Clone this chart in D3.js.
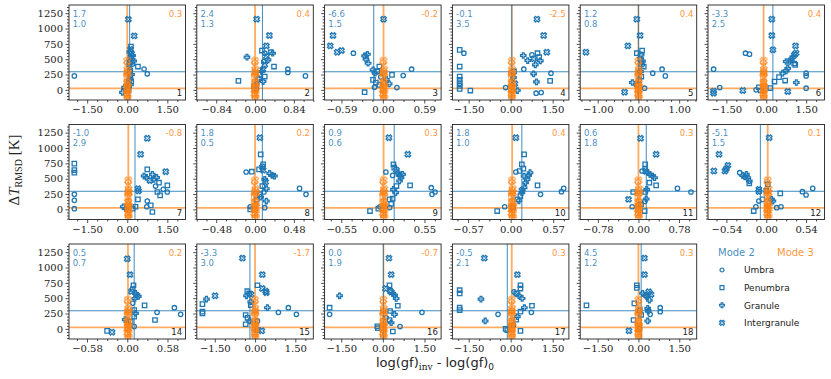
<!DOCTYPE html>
<html><head><meta charset="utf-8">
<script src="https://cdn.jsdelivr.net/npm/d3@7"></script>
<style>body{margin:0;background:#fff} svg{display:block}</style>
</head><body><svg id="c" width="831" height="379"></svg>
<script>
// ---------------- DATA ----------------
const panelIds   = [1,2,3,4,5,6,7,8,9,10,11,12,14,15,16,17,18];
const xTickVal   = [1.5,0.84,0.59,1.5,1.0,1.5, 1.5,0.48,0.55,0.57,0.78,0.54, 0.58,1.5,1.5,1.5,1.5];
const xLimit     = [2.18,1.26,0.83,2.08,1.43,2.19, 2.18,0.72,0.77,0.78,1.12,0.79, 0.84,2.17,2.1,2.08,2.14];
const yTicks     = [0,250,500,750,1000,1250];
const yDomain    = [-165,1383];
const mode2Level = 295;   // horizontal blue line
const mode3Level = 25;    // horizontal orange line
const mode2VLine = [0.09,0.16,-0.13,0.04,0.0,0.25, 0.29,0.09,0.15,0.15,0.15,-0.08, 0.1,-0.19,0.02,-0.12,0.1];
const mode3VLine = [0.0,0.0,0.01,0.04,0.0,-0.1, 0.04,0.0,0.01,0.02,0.0,0.02, 0.01,0.0,0.02,0.04,0.0];
const mode2TextA = ["1.7","2.4","-6.6","-0.1","1.2","-3.3","-1.0","1.8","0.9","1.8","0.6","-5.1","0.5","-3.3","0.0","-0.5","4.5"];
const mode2TextB = ["1.0","1.3","1.5","3.5","0.8","2.5","2.9","0.5","0.6","1.0","1.8","1.5","0.7","3.0","1.9","2.1","1.2"];
const mode3Text  = ["0.3","0.4","-0.2","-2.5","0.4","0.4","-0.8","0.2","0.3","0.4","0.3","0.1","0.2","-1.7","-0.7","0.3","0.3"];
const legendLabels = ["Umbra","Penumbra","Granule","Intergranule"];
const legendTypes  = ["u","p","g","i"];

// Mode 3 points: x offset from the panel's mode-3 column, value, region type
const m3Pts = [[0,470,'i'],[-0.01,445,'u'],[0.01,330,'i'],[0,310,'p'],[-0.01,290,'u'],[0.01,270,'i'],[0,245,'g'],[-0.01,210,'p'],
  [0.01,140,'u'],[0,115,'i'],[-0.01,95,'p'],[0.01,75,'g'],[0,55,'u'],[0.01,35,'i'],[-0.01,15,'p'],[0,-10,'u'],
  [0.01,-35,'g'],[-0.01,-60,'i'],[0,-85,'p'],[0.01,-110,'g'],[0,-140,'u']];

// Mode 2 points per panel: [dlog gf, dT, type]
const m2_1 = [[-1.98,228,'u'],[0.04,1150,'i'],[0.26,880,'i'],[0.14,705,'p'],[0.12,660,'i'],[0.1,615,'g'],[0.16,590,'i'],[0.2,560,'g'],[0.12,530,'p'],[0.18,500,'g'],[0.24,470,'g'],[0.1,450,'i'],[0.08,420,'p'],[0.4,380,'p'],[0.63,340,'u'],[0.75,262,'u'],[0.12,330,'u'],[0.1,300,'p'],[0.16,250,'g'],[0.12,205,'p'],[0.08,160,'g'],[0.05,120,'u'],[0.12,85,'g'],[0.02,60,'p'],[-0.1,40,'g'],[-0.18,-40,'g'],[0.05,0,'p'],[0.2,420,'u'],[0.15,140,'p']];
const m2_2 = [[0.035,1152,'i'],[0.31,886,'i'],[0.245,717,'i'],[-0.175,533,'g'],[0.15,641,'p'],[0.21,598,'u'],[0.34,614,'p'],[0.38,598,'g'],[0.245,543,'i'],[0.28,489,'g'],[0.19,462,'u'],[0.21,408,'i'],[0.41,380,'p'],[0.71,337,'u'],[0.71,283,'u'],[1.09,228,'u'],[-0.36,147,'p'],[0.21,217,'p'],[0.14,300,'g'],[0.17,330,'i'],[0.175,136,'g'],[0.04,100,'u'],[-0.02,60,'p'],[0.1,250,'p'],[0.08,180,'g'],[0.03,20,'u']];
const m2_3 = [[-0.71,886,'i'],[-0.75,717,'i'],[-0.65,614,'i'],[-0.59,641,'i'],[-0.42,598,'u'],[-0.26,554,'g'],[-0.24,500,'g'],[-0.21,435,'g'],[-0.22,580,'g'],[-0.05,380,'p'],[-0.14,326,'g'],[-0.11,272,'g'],[-0.26,-38,'p'],[-0.14,163,'p'],[-0.12,43,'u'],[-0.05,82,'p'],[0.01,1152,'i'],[0.13,245,'p'],[0.29,234,'u'],[0.41,337,'u'],[0.2,38,'u'],[0.09,98,'g'],[-0.08,300,'p'],[0.05,170,'g'],[-0.1,120,'p'],[-0.03,210,'u']];
const m2_4 = [[-1.82,652,'p'],[-1.67,598,'u'],[-1.82,380,'p'],[-1.82,217,'p'],[-1.82,163,'p'],[-1.82,109,'p'],[-1.82,65,'p'],[-1.82,16,'p'],[-1.44,-11,'p'],[-0.18,38,'u'],[0.94,1152,'i'],[1.18,886,'i'],[1.29,614,'i'],[0.45,560,'g'],[0.61,478,'g'],[0.76,570,'u'],[0.82,505,'i'],[0.96,598,'p'],[1.02,533,'p'],[1.06,473,'g'],[0.88,408,'g'],[0.47,337,'u'],[0.82,261,'g'],[0.92,130,'g'],[1.44,272,'u'],[1.41,147,'p'],[0.91,-54,'u'],[1.09,-43,'u'],[0.24,-11,'g'],[0.12,300,'p'],[0.1,200,'g'],[0.15,100,'i']];
const m2_5 = [[-1.29,614,'i'],[-0.26,717,'i'],[-0.04,1152,'i'],[0.04,886,'i'],[-0.04,598,'p'],[0.09,641,'p'],[0.065,570,'g'],[0.05,500,'i'],[0.1,470,'g'],[0.13,380,'p'],[0.35,272,'u'],[0.58,337,'u'],[0.66,228,'u'],[-0.15,120,'g'],[0.15,27,'u'],[-0.34,-38,'i'],[0.07,217,'p'],[0.05,300,'g'],[0.02,160,'p'],[-0.05,80,'u'],[0.08,420,'i']];
const m2_6 = [[-1.98,337,'u'],[-1.75,38,'u'],[-1.98,-54,'i'],[-1.98,-20,'i'],[-0.78,598,'u'],[-0.63,582,'u'],[-0.88,-11,'i'],[-0.38,0,'u'],[-0.28,43,'p'],[-0.21,-10,'p'],[0.21,1152,'i'],[0.21,886,'i'],[0.25,652,'i'],[0.31,136,'p'],[0.48,207,'p'],[0.62,272,'g'],[0.75,310,'g'],[0.81,353,'g'],[0.88,462,'g'],[0.94,500,'g'],[1.0,533,'g'],[1.06,570,'i'],[1.12,600,'i'],[1.1,717,'i'],[1.09,408,'p'],[0.71,152,'p'],[0.75,462,'g'],[1.13,120,'g'],[1.5,272,'u'],[1.5,228,'u'],[1.5,27,'u'],[0.81,-27,'i'],[0.15,30,'p'],[1.05,430,'p']];
const m2_7 = [[-1.98,745,'p'],[-1.98,641,'p'],[-1.98,598,'p'],[-1.98,245,'u'],[-1.98,147,'u'],[-1.98,11,'u'],[0.5,897,'i'],[0.75,1158,'i'],[0.75,652,'p'],[0.63,543,'g'],[0.72,520,'g'],[0.94,570,'g'],[1.0,489,'g'],[1.19,435,'p'],[1.06,380,'u'],[1.44,614,'i'],[1.5,391,'p'],[1.13,283,'p'],[1.23,228,'p'],[1.35,326,'u'],[1.5,283,'u'],[0.4,337,'i'],[0.42,300,'i'],[0.4,163,'p'],[0.75,136,'u'],[0.73,43,'u'],[0.88,65,'p'],[0.94,-43,'p'],[-0.15,43,'g'],[-0.06,10,'g'],[0.31,43,'p'],[0.2,10,'p'],[1.1,520,'g'],[0.85,470,'i']];
const m2_8 = [[0.06,1168,'i'],[0.07,897,'p'],[0.1,734,'p'],[0.09,690,'i'],[0.05,652,'p'],[0.1,641,'i'],[-0.11,609,'u'],[-0.04,614,'p'],[0.18,587,'g'],[0.21,554,'g'],[0.24,543,'g'],[0.12,489,'g'],[0.13,446,'i'],[0.09,380,'p'],[0.14,337,'g'],[0.11,283,'u'],[0.06,245,'p'],[0.55,342,'u'],[0.63,245,'u'],[0.14,136,'g'],[0.12,27,'u'],[-0.06,43,'u'],[-0.06,0,'p'],[0.02,160,'p'],[0.07,200,'g']];
const m2_9 = [[-0.17,-27,'p'],[0.08,1168,'i'],[0.33,897,'i'],[0.14,734,'p'],[0.15,680,'p'],[0.18,641,'i'],[0.04,609,'u'],[0.2,598,'g'],[0.22,554,'g'],[0.24,516,'g'],[0.26,570,'g'],[0.22,462,'g'],[0.13,554,'u'],[0.36,391,'p'],[0.18,380,'p'],[0.14,326,'g'],[0.17,272,'g'],[0.13,174,'p'],[0.64,353,'u'],[0.69,283,'u'],[0.65,245,'u'],[0.09,163,'p'],[-0.04,43,'u'],[0.09,30,'u'],[0.11,90,'p'],[-0.06,10,'p']];
const m2_10 = [[0.07,1168,'i'],[0.18,897,'p'],[0.15,734,'p'],[0.17,663,'p'],[0.07,609,'u'],[0.12,625,'p'],[0.18,543,'g'],[0.22,489,'g'],[0.24,554,'g'],[0.26,598,'g'],[0.2,435,'g'],[0.36,391,'p'],[0.18,353,'g'],[0.15,272,'g'],[0.13,217,'p'],[0.4,245,'u'],[0.68,288,'u'],[0.71,342,'u'],[-0.18,-27,'p'],[-0.08,43,'u'],[0.09,163,'p'],[0.11,140,'g'],[0.15,310,'i'],[0.03,30,'p']];
const m2_11 = [[0.04,1158,'i'],[0.34,897,'i'],[0.13,734,'p'],[0.13,663,'p'],[0.14,620,'i'],[0.07,625,'u'],[0.18,598,'g'],[0.22,570,'g'],[0.27,543,'g'],[0.31,516,'g'],[0.21,435,'p'],[0.34,391,'p'],[0.16,326,'g'],[0.13,283,'p'],[0.75,342,'u'],[1.01,283,'u'],[-0.1,283,'p'],[-0.19,163,'i'],[0.15,170,'g'],[0.12,130,'u'],[-0.12,43,'u'],[0.12,-27,'p'],[0.05,80,'p']];
const m2_12 = [[0.04,1168,'i'],[-0.64,897,'i'],[-0.71,625,'i'],[-0.56,625,'i'],[-0.54,663,'i'],[-0.52,717,'i'],[-0.36,598,'u'],[-0.32,554,'g'],[-0.27,570,'g'],[-0.25,516,'g'],[-0.23,462,'g'],[-0.23,424,'p'],[-0.29,530,'g'],[-0.1,326,'i'],[-0.1,290,'i'],[0.02,408,'p'],[0.19,261,'p'],[0.49,288,'u'],[0.54,234,'u'],[0.63,342,'u'],[-0.05,163,'p'],[-0.1,136,'u'],[0.09,136,'g'],[0.07,165,'g'],[-0.14,43,'u'],[-0.17,-27,'p'],[0.14,27,'u'],[0.2,43,'u'],[0.0,300,'p']];
const m2_14 = [[0,1142,'i'],[0.04,884,'i'],[0.09,711,'p'],[0.08,650,'p'],[0.06,610,'i'],[0.12,577,'g'],[0.14,550,'g'],[0.16,530,'g'],[0.11,496,'g'],[0.25,383,'p'],[0.1,307,'p'],[0.12,253,'g'],[0.1,199,'p'],[0.43,269,'u'],[0.68,345,'u'],[0.77,237,'u'],[0.4,145,'p'],[-0.29,-32,'p'],[-0.22,-54,'i'],[0.1,38,'u'],[0.05,120,'p'],[0.08,420,'u'],[-0.03,150,'g']];
const m2_15 = [[-0.47,1153,'i'],[0.27,884,'i'],[0.09,711,'p'],[0.27,657,'i'],[0.4,614,'i'],[0.42,590,'i'],[-0.29,614,'p'],[-0.22,577,'p'],[-0.32,539,'g'],[-0.15,560,'i'],[-1.49,539,'i'],[-1.81,485,'g'],[-1.96,404,'p'],[-1.96,253,'p'],[-1.96,280,'p'],[-0.16,442,'g'],[-0.16,388,'p'],[0.46,345,'g'],[0.87,269,'u'],[1.24,345,'u'],[1.54,237,'u'],[-0.35,226,'p'],[-0.28,180,'p'],[-0.35,75,'p'],[-0.2,130,'g'],[0.09,129,'u'],[0.25,-32,'i'],[0.1,-20,'p']];
const m2_16 = [[-1.92,345,'p'],[-1.92,237,'u'],[-1.56,539,'g'],[-0.18,11,'p'],[-0.2,40,'p'],[0.22,1153,'i'],[0.3,884,'i'],[0.24,711,'p'],[0.1,657,'i'],[0.26,620,'p'],[0.36,577,'g'],[0.42,550,'g'],[0.48,496,'g'],[0.3,600,'i'],[0.54,377,'p'],[1.41,269,'u'],[0.26,291,'p'],[0.42,237,'g'],[0.24,145,'p'],[0.3,100,'g'],[0.62,38,'u'],[0.36,-43,'p'],[0.12,180,'u']];
const m2_17 = [[-1.82,630,'p'],[-1.82,577,'p'],[-1.82,345,'p'],[-1.82,307,'p'],[-0.94,1153,'i'],[-1.06,485,'g'],[-0.45,237,'u'],[-0.91,129,'g'],[-0.18,0,'p'],[-0.12,-20,'p'],[0.24,884,'i'],[0.35,711,'p'],[0.35,657,'p'],[0.12,604,'u'],[0.21,577,'i'],[0.3,540,'g'],[0.41,496,'g'],[0.49,345,'g'],[0.76,377,'p'],[0.74,269,'u'],[0.35,280,'p'],[0.24,199,'g'],[0.2,150,'p'],[0.35,-32,'p'],[0.1,60,'u']];
const m2_18 = [[-1.91,383,'p'],[0.22,1153,'i'],[0.22,884,'i'],[-0.06,711,'p'],[-0.06,668,'p'],[0.38,604,'i'],[0.46,560,'i'],[0.15,580,'g'],[0.26,550,'g'],[0.3,530,'g'],[0.4,469,'g'],[0.8,345,'u'],[0.8,280,'u'],[0.34,334,'g'],[0.36,290,'g'],[0.43,237,'u'],[0.1,226,'p'],[-0.15,415,'p'],[0.34,129,'g'],[-0.18,145,'p'],[-0.35,-32,'i'],[0.04,11,'u'],[0.05,300,'p']];
const mode2Sets = [m2_1,m2_2,m2_3,m2_4,m2_5,m2_6,m2_7,m2_8,m2_9,m2_10,m2_11,m2_12,m2_14,m2_15,m2_16,m2_17,m2_18];

// ---------------- DRAW ----------------
const BLUE = '#1f77b4', ORANGE = '#ff7f0e', INK = '#222';
const svg = d3.select('#c');
const PW = 116.5, PH = 95;
const colX = c => 69 + c * 127.8;
const rowY = [5, 124.5, 244];
const tickFont = "'DejaVu Serif', serif";
const sansFont = "'DejaVu Sans', sans-serif";

function markerPath(t, k) {
  if (t === 'u') { const r = 2.2 * k; return `M${r},0A${r},${r} 0 1,1 ${-r},0A${r},${r} 0 1,1 ${r},0Z`; }
  if (t === 'p') { const h = 2.2 * k; return `M${-h},${-h}H${h}V${h}H${-h}Z`; }
  if (t === 'g') {
    const u = 0.9 * k;
    const pts = [[-1,-3],[1,-3],[1,-1],[3,-1],[3,1],[1,1],[1,3],[-1,3],[-1,1],[-3,1],[-3,-1],[-1,-1]];
    return 'M' + pts.map(p => (p[0]*u) + ',' + (p[1]*u)).join('L') + 'Z';
  }
  const s = 5.6 * k;
  const pts = [[-0.25,-0.5],[0,-0.25],[0.25,-0.5],[0.5,-0.25],[0.25,0],[0.5,0.25],[0.25,0.5],[0,0.25],[-0.25,0.5],[-0.5,0.25],[-0.25,0],[-0.5,-0.25]];
  return 'M' + pts.map(p => (p[0]*s) + ',' + (p[1]*s)).join('L') + 'Z';
}

panelIds.forEach((id, k) => {
  const r = k < 12 ? Math.floor(k / 6) : 2;
  const c = k < 12 ? k % 6 : k - 12;
  const x0 = colX(c), y0 = rowY[r];
  const D = xLimit[k], T = xTickVal[k];
  const x = d3.scaleLinear().domain([-D, D]).range([x0, x0 + PW]);
  const y = d3.scaleLinear().domain(yDomain).range([y0 + PH, y0]);
  const g = svg.append('g');
  const clipId = 'clip' + k;
  svg.append('clipPath').attr('id', clipId).append('rect')
    .attr('x', x0).attr('y', y0).attr('width', PW).attr('height', PH);
  const inner = g.append('g').attr('clip-path', `url(#${clipId})`);

  // reference lines
  inner.append('line').attr('x1', x0).attr('x2', x0 + PW).attr('y1', y(mode3Level)).attr('y2', y(mode3Level))
    .attr('stroke', ORANGE).attr('stroke-width', 1.8).attr('stroke-opacity', 0.65);
  inner.append('line').attr('x1', x(mode3VLine[k])).attr('x2', x(mode3VLine[k])).attr('y1', y0).attr('y2', y0 + PH)
    .attr('stroke', ORANGE).attr('stroke-width', 1.8).attr('stroke-opacity', 0.65);
  inner.append('line').attr('x1', x0).attr('x2', x0 + PW).attr('y1', y(mode2Level)).attr('y2', y(mode2Level))
    .attr('stroke', BLUE).attr('stroke-width', 1).attr('stroke-opacity', 0.85);
  inner.append('line').attr('x1', x(mode2VLine[k])).attr('x2', x(mode2VLine[k])).attr('y1', y0).attr('y2', y0 + PH)
    .attr('stroke', BLUE).attr('stroke-width', 1).attr('stroke-opacity', 0.85);

  // mode 2 points
  inner.append('g').selectAll('path').data(mode2Sets[k]).join('path')
    .attr('d', d => markerPath(d[2], 1))
    .attr('transform', d => `translate(${x(d[0])},${y(d[1])})`)
    .attr('fill', 'none').attr('stroke', BLUE).attr('stroke-width', 1.3);
  // mode 3 points
  inner.append('g').selectAll('path').data(m3Pts).join('path')
    .attr('d', d => markerPath(d[2], 1.25))
    .attr('transform', d => `translate(${x(mode3VLine[k] + d[0])},${y(d[1])})`)
    .attr('fill', 'none').attr('stroke', ORANGE).attr('stroke-width', 1.3).attr('stroke-opacity', 0.6);

  // frame
  g.append('rect').attr('x', x0).attr('y', y0).attr('width', PW).attr('height', PH)
    .attr('fill', 'none').attr('stroke', INK).attr('stroke-width', 0.9);

  // y axis
  const yMinor = [];
  for (let v = -150; v <= 1350; v += 50) if (v % 250 !== 0) yMinor.push(v);
  const ya = g.append('g').attr('transform', `translate(${x0},0)`)
    .call(d3.axisLeft(y).tickValues(yTicks).tickSize(3.5).tickPadding(2.5)
      .tickFormat(c === 0 ? d3.format('d') : () => ''));
  const yam = g.append('g').attr('transform', `translate(${x0},0)`)
    .call(d3.axisLeft(y).tickValues(yMinor).tickSize(2).tickFormat(() => ''));
  // x axis
  const ndiv = Math.abs(T - 1.0) < 1e-9 ? 5 : 4;
  const step = T / ndiv;
  const xMinor = [];
  for (let i = -Math.floor(D / step); i <= Math.floor(D / step); i++) if (i % ndiv !== 0) xMinor.push(i * step);
  const xa = g.append('g').attr('transform', `translate(0,${y0 + PH})`)
    .call(d3.axisBottom(x).tickValues([-T, 0, T]).tickSize(3.5).tickPadding(2.5).tickFormat(d3.format('.2f')));
  const xam = g.append('g').attr('transform', `translate(0,${y0 + PH})`)
    .call(d3.axisBottom(x).tickValues(xMinor).tickSize(2).tickFormat(() => ''));
  [ya, yam, xa, xam].forEach(a => {
    a.select('.domain').remove();
    a.selectAll('line').attr('stroke', INK).attr('stroke-width', 0.8);
    a.selectAll('text').attr('fill', INK).style('font-family', tickFont).style('font-size', '10px');
  });

  // annotations
  g.append('text').attr('x', x0 + 3.7).attr('y', y0 + 11.5).text(mode2TextA[k])
    .attr('fill', BLUE).attr('fill-opacity', 0.85).style('font-family', sansFont).style('font-size', '8.5px');
  g.append('text').attr('x', x0 + 3.7).attr('y', y0 + 21.7).text(mode2TextB[k])
    .attr('fill', BLUE).attr('fill-opacity', 0.85).style('font-family', sansFont).style('font-size', '8.5px');
  g.append('text').attr('x', x0 + PW - 3.3).attr('y', y0 + 11.5).text(mode3Text[k]).attr('text-anchor', 'end')
    .attr('fill', ORANGE).attr('fill-opacity', 0.85).style('font-family', sansFont).style('font-size', '8.5px');
  g.append('text').attr('x', x0 + PW - 3.3).attr('y', y0 + PH - 4).text(String(id)).attr('text-anchor', 'end')
    .attr('fill', INK).style('font-family', sansFont).style('font-size', '8.5px');
});

// y label
const yl = svg.append('text').attr('transform', 'translate(19,170) rotate(-90)').attr('text-anchor', 'middle')
  .style('font-family', "'Liberation Serif', serif").style('font-size', '15px').attr('fill', INK);
yl.append('tspan').text('Δ');
yl.append('tspan').text('T').style('font-style', 'italic');
yl.append('tspan').text('RMSD').attr('dy', 3).style('font-size', '10px');
yl.append('tspan').text(' [K]').attr('dy', -3);

// x label
const xl = svg.append('text').attr('x', 435).attr('y', 366.5).attr('text-anchor', 'middle')
  .style('font-family', sansFont).style('font-size', '13px').attr('fill', INK);
xl.append('tspan').text('log(gf)');
xl.append('tspan').text('inv').attr('dy', 3).style('font-size', '9px').style('font-family', "'DejaVu Serif', serif");
xl.append('tspan').text(' - log(gf)').attr('dy', -3);
xl.append('tspan').text('0').attr('dy', 3).style('font-size', '9px');

// legend
svg.append('text').attr('x', 718).attr('y', 256).text('Mode 2').attr('fill', BLUE).attr('fill-opacity', 0.85)
  .style('font-family', sansFont).style('font-size', '10px');
svg.append('text').attr('x', 777).attr('y', 256).text('Mode 3').attr('fill', ORANGE).attr('fill-opacity', 0.85)
  .style('font-family', sansFont).style('font-size', '10px');
const legY = [270, 287.7, 305.2, 322.8];
legendLabels.forEach((lab, i) => {
  svg.append('path').attr('d', markerPath(legendTypes[i], 0.9)).attr('transform', `translate(722,${legY[i]})`)
    .attr('fill', 'none').attr('stroke', BLUE).attr('stroke-width', 1.2);
  svg.append('text').attr('x', 744).attr('y', legY[i] + 3.3).text(lab).attr('fill', INK)
    .style('font-family', sansFont).style('font-size', '9px');
});
</script></body></html>
